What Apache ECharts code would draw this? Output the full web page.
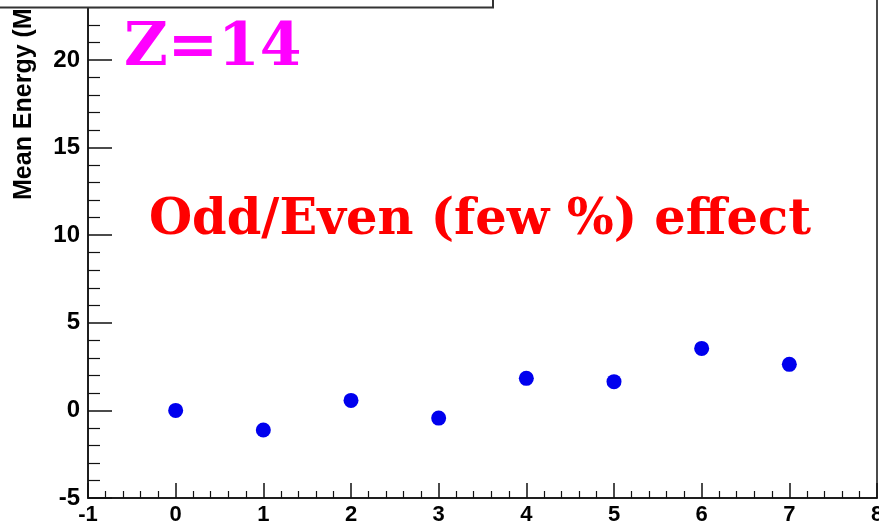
<!DOCTYPE html>
<html>
<head>
<meta charset="utf-8">
<script src="https://cdn.jsdelivr.net/npm/echarts@6/dist/echarts.min.js"></script>
<style>
  html, body { margin: 0; padding: 0; background: #ffffff; overflow: hidden; width: 879px; height: 528px; }
  /* the frame runs past the top edge of the page, so the canvas is taller and shifted up */
  #chart { position: absolute; left: 0; top: -28px; width: 879px; height: 556px; }
</style>
</head>
<body>
<div id="chart"></div>
<script>
// Mean energy shift per step for Z=14
const stepIndex = [0, 1, 2, 3, 4, 5, 6, 7];
const meanEnergy = [0.0, -1.12, 0.57, -0.44, 1.83, 1.64, 3.54, 2.63];

const xRange = { min: -1, max: 8, interval: 1 };
const yRange = { min: -5, max: 25, interval: 5 };

const yTitle = 'Mean Energy (MeV)';
const tagText = 'Z=14';
const noteText = 'Odd/Even (few %) effect';

const points = stepIndex.map((x, i) => [x, meanEnergy[i]]);

const OFF = 28; // vertical shift of the canvas above the page
const chart = echarts.init(document.getElementById('chart'), null, { renderer: 'canvas' });

const axisColor = '#111111';
const labelFont = '"Liberation Sans", Arial, Helvetica, sans-serif';
const serifFont = '"DejaVu Serif", serif';

chart.setOption({
  animation: false,
  backgroundColor: '#ffffff',
  grid: {
    left: 88,
    right: 2,
    bottom: 30,
    top: 0.4,
    containLabel: false,
    outerBoundsMode: 'none',
    show: true,
    borderColor: axisColor,
    borderWidth: 1.5,
    backgroundColor: 'transparent'
  },
  xAxis: {
    type: 'value',
    min: xRange.min,
    max: xRange.max,
    interval: xRange.interval,
    splitLine: { show: false },
    axisLine: { onZero: false, lineStyle: { color: axisColor, width: 1.5 } },
    axisTick: { inside: true, length: 15, lineStyle: { color: axisColor, width: 1.5 } },
    minorTick: { show: true, splitNumber: 5, length: 7, lineStyle: { color: axisColor, width: 1.2 } },
    axisLabel: {
      margin: 6,
      color: '#000',
      fontFamily: labelFont,
      fontWeight: 'bold',
      fontSize: 22,
      showMinLabel: true,
      showMaxLabel: true
    }
  },
  yAxis: {
    type: 'value',
    min: yRange.min,
    max: yRange.max,
    interval: yRange.interval,
    splitLine: { show: false },
    axisLine: { onZero: false, lineStyle: { color: axisColor, width: 1.5 } },
    axisTick: { inside: true, length: 24, lineStyle: { color: axisColor, width: 1.5 } },
    minorTick: { show: true, splitNumber: 5, length: 12, lineStyle: { color: axisColor, width: 1.2 } },
    axisLabel: {
      margin: 8,
      color: '#000',
      fontFamily: labelFont,
      fontWeight: 'bold',
      fontSize: 24,
      showMinLabel: true
    }
  },
  series: [{
    type: 'scatter',
    data: points,
    symbol: 'circle',
    symbolSize: 15,
    itemStyle: { color: '#0000ee', opacity: 1 },
    z: 5
  }],
  graphic: [
    {
      type: 'rect',
      shape: { x: -4, y: OFF - 4, width: 497, height: 11.5 },
      style: { fill: '#ffffff', stroke: '#333333', lineWidth: 2 },
      z: 10
    },
    {
      type: 'text',
      x: 24,
      y: OFF + 200,
      rotation: Math.PI / 2,
      style: {
        text: yTitle,
        fill: '#000',
        font: 'bold 25px ' + labelFont,
        textAlign: 'left',
        textVerticalAlign: 'middle'
      },
      z: 9
    },
    {
      type: 'text',
      x: 124,
      y: OFF + 79,
      style: {
        text: tagText,
        fill: '#ff00ff',
        font: 'bold 60px ' + serifFont,
        textAlign: 'left',
        textVerticalAlign: 'bottom'
      },
      z: 9
    },
    {
      type: 'text',
      x: 149,
      y: OFF + 246,
      style: {
        text: noteText,
        fill: '#ff0000',
        font: 'bold 49.5px ' + serifFont,
        textAlign: 'left',
        textVerticalAlign: 'bottom'
      },
      z: 9
    }
  ]
});
</script>
</body>
</html>
